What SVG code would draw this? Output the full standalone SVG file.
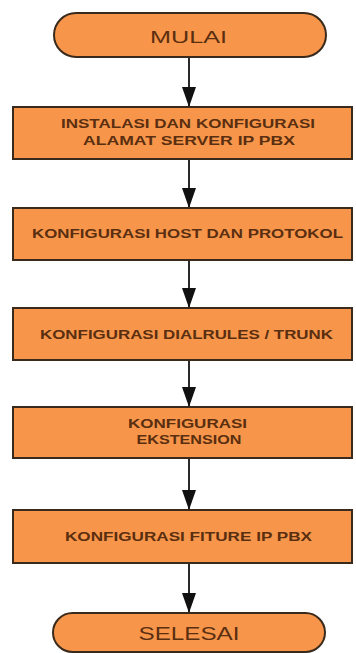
<svg xmlns="http://www.w3.org/2000/svg" width="356" height="653" viewBox="0 0 356 653">
  <style>
    .node { fill: #F7964A; stroke: #3a2a1c; stroke-width: 2; }
    .lbl { font-family: "Liberation Sans", Arial, sans-serif; font-size: 12px; font-weight: bold; fill: #5a2e10; text-anchor: middle; }
    .term { font-family: "Liberation Sans", Arial, sans-serif; fill: #5a2e10; text-anchor: middle; }
    .conn { stroke: #2a2a2a; stroke-width: 2; fill: none; marker-end: url(#arrow); }
  </style>
  <defs>
    <marker id="arrow" markerUnits="userSpaceOnUse" viewBox="0 -7 20 14" refX="20" refY="0" markerWidth="20" markerHeight="14" orient="auto">
      <path d="M0,-7 L20,0 L0,7 Z" fill="#111"/>
    </marker>
  </defs>
  <rect width="356" height="653" fill="#ffffff"/>

  <g id="connectors">
    <line class="conn" x1="189" y1="57" x2="189" y2="107"/>
    <line class="conn" x1="189" y1="159" x2="189" y2="208"/>
    <line class="conn" x1="189" y1="260" x2="189" y2="308"/>
    <line class="conn" x1="189" y1="360" x2="189" y2="407"/>
    <line class="conn" x1="189" y1="458" x2="189" y2="510"/>
    <line class="conn" x1="189" y1="563" x2="189" y2="613"/>
  </g>

  <g id="mulai">
    <rect class="node" x="54" y="13" width="272" height="44" rx="22" ry="22"/>
    <text class="term" x="188.5" y="43" font-size="16" textLength="77" lengthAdjust="spacingAndGlyphs">MULAI</text>
  </g>

  <g id="instalasi">
    <rect class="node" x="13" y="107" width="339" height="52"/>
    <text class="lbl" x="188" y="128" textLength="254" lengthAdjust="spacingAndGlyphs">INSTALASI DAN KONFIGURASI</text>
    <text class="lbl" x="189" y="145" textLength="212" lengthAdjust="spacingAndGlyphs">ALAMAT SERVER IP PBX</text>
  </g>

  <g id="host">
    <rect class="node" x="13" y="208" width="339" height="52"/>
    <text class="lbl" x="187.5" y="238" textLength="311" lengthAdjust="spacingAndGlyphs">KONFIGURASI HOST DAN PROTOKOL</text>
  </g>

  <g id="dialrules">
    <rect class="node" x="13" y="308" width="339" height="52"/>
    <text class="lbl" x="186.5" y="339" textLength="293" lengthAdjust="spacingAndGlyphs">KONFIGURASI DIALRULES / TRUNK</text>
  </g>

  <g id="ekstension">
    <rect class="node" x="13" y="407" width="339" height="51"/>
    <text class="lbl" x="187.5" y="428" textLength="119" lengthAdjust="spacingAndGlyphs">KONFIGURASI</text>
    <text class="lbl" x="189" y="444" textLength="105" lengthAdjust="spacingAndGlyphs">EKSTENSION</text>
  </g>

  <g id="fiture">
    <rect class="node" x="13" y="510" width="339" height="53"/>
    <text class="lbl" x="188.5" y="541" textLength="247" lengthAdjust="spacingAndGlyphs">KONFIGURASI FITURE IP PBX</text>
  </g>

  <g id="selesai">
    <rect class="node" x="53" y="613" width="272" height="39" rx="19.5" ry="19.5"/>
    <text class="term" x="189" y="640" font-size="18" textLength="101" lengthAdjust="spacingAndGlyphs">SELESAI</text>
  </g>
</svg>
